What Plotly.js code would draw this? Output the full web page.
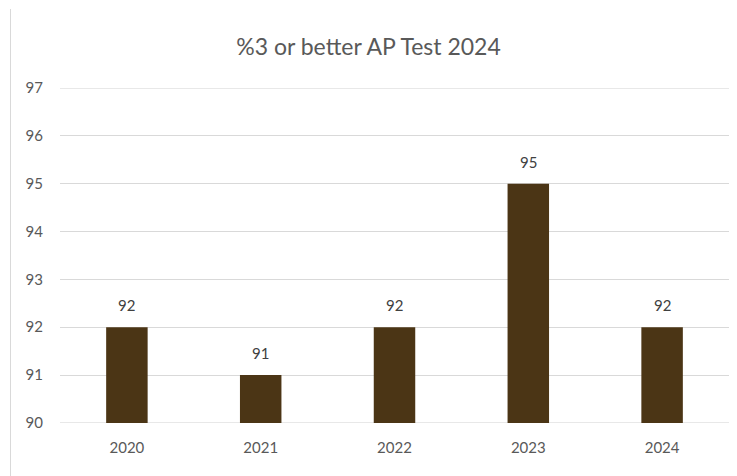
<!DOCTYPE html>
<html><head><meta charset="utf-8">
<script src="https://cdn.plot.ly/plotly-3.0.1.min.js"></script>
<style>html,body{margin:0;padding:0;background:#fff}#c{width:737px;height:476px}</style>
</head><body><div id="c"></div>
<script>
const years = ['2020','2021','2022','2023','2024'];
const pct = [92, 91, 92, 95, 92];
const yTicks = [90,91,92,93,94,95,96,97];
const titleText = '%3 or better AP Test 2024';

const font = 'Lato, "Open Sans", sans-serif';
const barColor = '#4B3515';
const gridColor = '#d9d9d9';

const trace = {
  type: 'bar', x: years, y: pct, base: 0,
  marker: {color: barColor},
  width: 0.31, hoverinfo: 'skip'
};
const annotations = years.map((yr, i) => ({
  x: i, y: pct[i], xref: 'x', yref: 'y', text: String(pct[i]),
  showarrow: false, yshift: 22, font: {family: font, size: 15, color: '#404040'}
}));

const edgeLines = [yTicks[0], yTicks[yTicks.length - 1]].map(v => ({
  type: 'line', xref: 'paper', yref: 'y', x0: 0, x1: 1, y0: v, y1: v,
  line: {color: gridColor, width: 1}, layer: 'below'
}));

const layout = {
  width: 737, height: 476,
  margin: {l: 60, r: 8, t: 88, b: 53, pad: 0},
  paper_bgcolor: '#fff', plot_bgcolor: '#fff',
  title: {text: titleText, x: 0.5, xanchor: 'center', y: 1 - 47/476, yanchor: 'middle',
          font: {family: font, size: 23, color: '#595959'}},
  xaxis: {type: 'category', range: [-0.5, 4.5], showgrid: false, zeroline: false, showline: false,
          ticks: '', tickfont: {family: font, size: 15, color: '#595959'}, ticklabelstandoff: 14,
          fixedrange: true},
  yaxis: {range: [89.998, 97.002], tickvals: yTicks, showgrid: true, gridcolor: gridColor, gridwidth: 1,
          zeroline: false, showline: false, ticks: '',
          tickfont: {family: font, size: 15, color: '#595959'}, ticklabelstandoff: 16,
          fixedrange: true},
  annotations: annotations,
  shapes: edgeLines.concat([{type: 'line', xref: 'paper', yref: 'paper',
            x0: (10.5 - 60) / 669, x1: (10.5 - 60) / 669,
            y0: (423 - 9) / 335, y1: (423 - 476) / 335,
            line: {color: gridColor, width: 1}}]),
  showlegend: false
};
Plotly.newPlot('c', [trace], layout, {displayModeBar: false, staticPlot: true});
</script></body></html>
